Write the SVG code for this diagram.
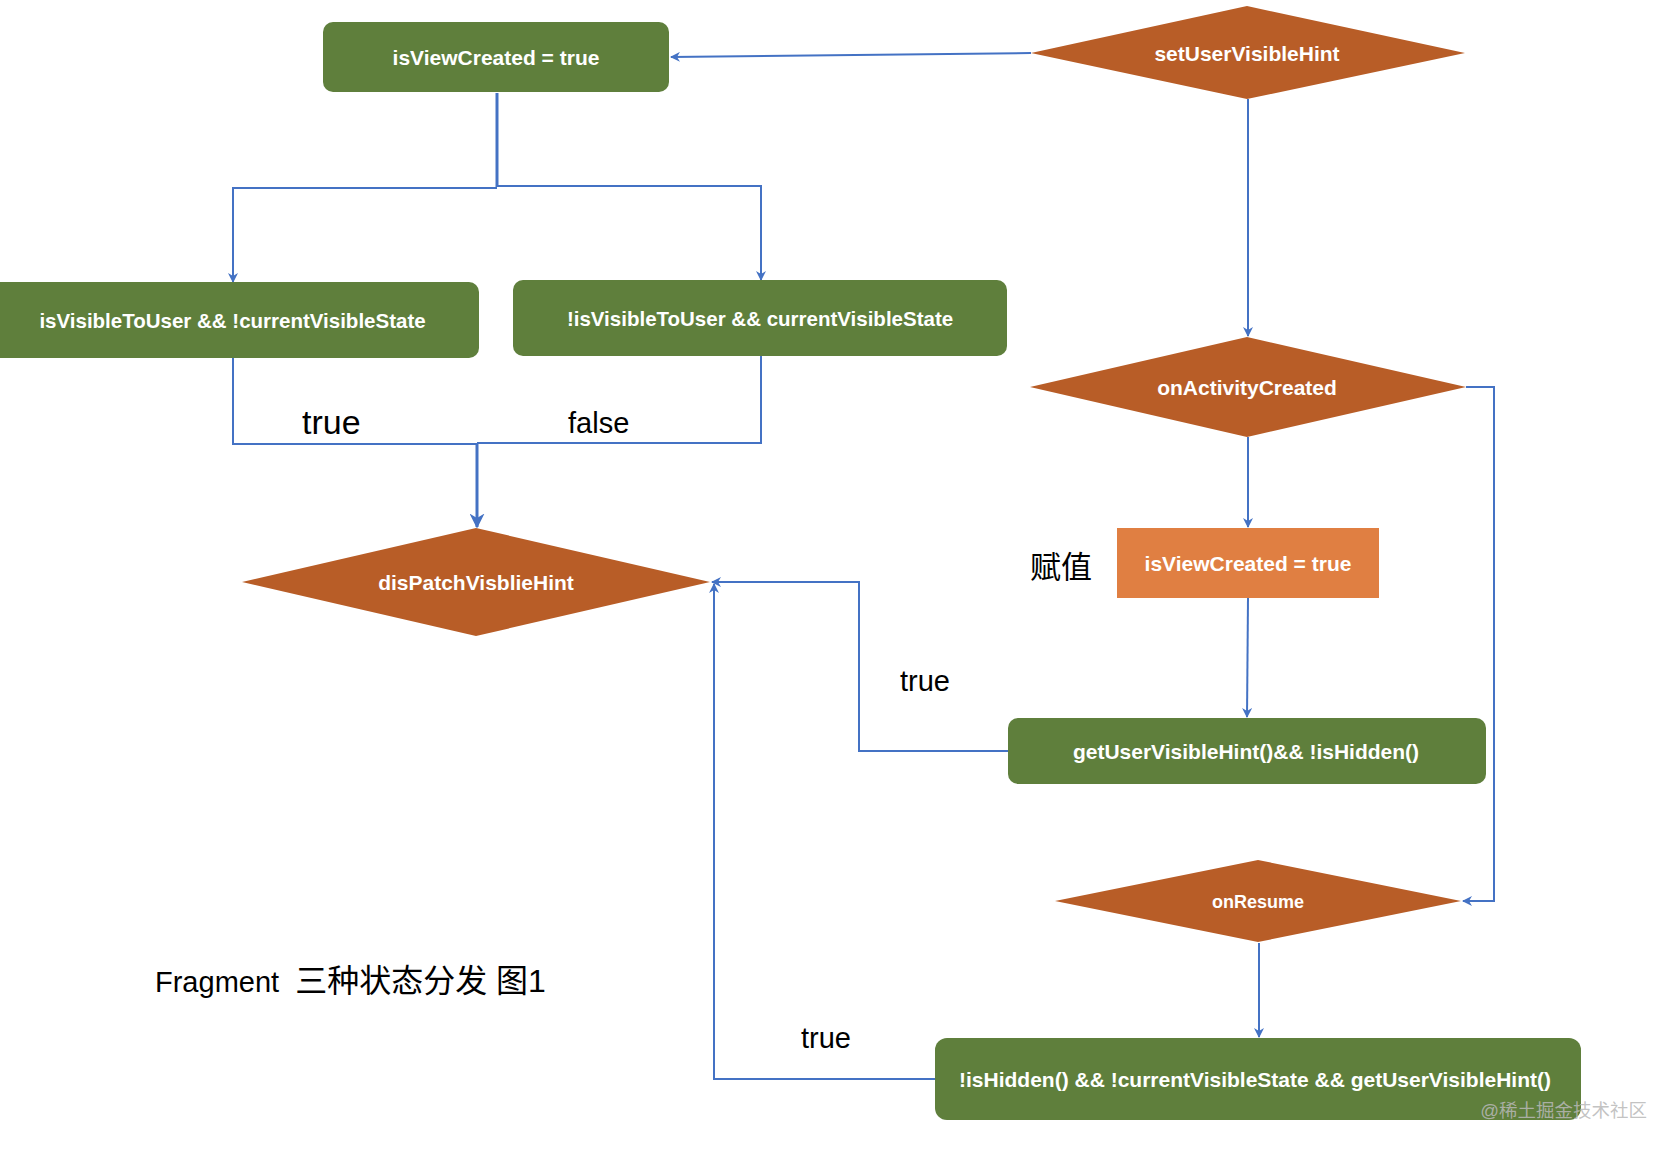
<svg xmlns="http://www.w3.org/2000/svg" width="1678" height="1150" viewBox="0 0 1678 1150">
<style>
.bg{fill:#ffffff}
.box{fill:#5F7F3C}
.dia{fill:#B85D27}
.obox{fill:#E07F42}
.nt{font-family:"Liberation Sans",Arial,sans-serif;font-weight:bold;font-size:21px;fill:#ffffff;text-anchor:middle}
.lbl{font-family:"Liberation Sans",Arial,"Noto Sans CJK SC",sans-serif;fill:#000000}
.cjk{font-family:"Liberation Sans","Noto Sans CJK SC",sans-serif;fill:#000000}
.wm{font-family:"Liberation Sans","Noto Sans CJK SC",sans-serif;font-size:18.5px;fill:#b8b8b8;fill-opacity:0.85}
.ln{fill:none;stroke:#4472C4;stroke-width:2}
.lnt{fill:none;stroke:#4472C4;stroke-width:3}
</style>
<defs>
<marker id="arr" viewBox="0 0 10 10" refX="9" refY="5" markerWidth="5" markerHeight="5" orient="auto" markerUnits="strokeWidth">
<path d="M0,0 L10,5 L0,10 L3,5 z" fill="#4472C4"/>
</marker>
</defs>
<rect class="bg" x="0" y="0" width="1678" height="1150"/>

<g id="connectors">
<polyline class="ln" points="1031,53 671,57" marker-end="url(#arr)"/>
<polyline class="lnt" points="497,93 497,187"/>
<polyline class="ln" points="497,188 233,188 233,282" marker-end="url(#arr)"/>
<polyline class="ln" points="497,186 761,186 761,280" marker-end="url(#arr)"/>
<polyline class="ln" points="233,358 233,444 477,444"/>
<polyline class="ln" points="761,356 761,443 477,443"/>
<polyline class="lnt" points="477,443 477,527" marker-end="url(#arr)"/>
<polyline class="ln" points="1248,99 1248,336" marker-end="url(#arr)"/>
<polyline class="ln" points="1248,437 1248,527" marker-end="url(#arr)"/>
<polyline class="ln" points="1248,598 1247,717" marker-end="url(#arr)"/>
<polyline class="ln" points="1466,387 1494,387 1494,901 1463,901" marker-end="url(#arr)"/>
<polyline class="ln" points="1259,943 1259,1037" marker-end="url(#arr)"/>
<polyline class="ln" points="1008,751 859,751 859,582 712,582" marker-end="url(#arr)"/>
<polyline class="ln" points="935,1079 714,1079 714,584" marker-end="url(#arr)"/>
</g>

<g id="n-isViewCreated-top">
<rect class="box" x="323" y="22" width="346" height="70" rx="10"/>
<text class="nt" x="496" y="64.5">isViewCreated = true</text>
</g>
<g id="n-setUserVisibleHint">
<polygon class="dia" points="1247,6 1465,53 1247,99 1031,53"/>
<text class="nt" x="1247" y="60.5">setUserVisibleHint</text>
</g>
<g id="n-visible">
<rect class="box" x="-12" y="282" width="491" height="76" rx="10"/>
<text class="nt" x="232.5" y="327.5" style="font-size:20.5px">isVisibleToUser &amp;&amp; !currentVisibleState</text>
</g>
<g id="n-invisible">
<rect class="box" x="513" y="280" width="494" height="76" rx="10"/>
<text class="nt" x="760" y="325.5" style="font-size:20.5px">!isVisibleToUser &amp;&amp; currentVisibleState</text>
</g>
<g id="n-dispatch">
<polygon class="dia" points="476,528 710,582 476,636 242,582"/>
<text class="nt" x="476" y="589.5">disPatchVisblieHint</text>
</g>
<g id="n-onActivityCreated">
<polygon class="dia" points="1247,337 1466,387 1247,437 1030,387"/>
<text class="nt" x="1247" y="394.5">onActivityCreated</text>
</g>
<g id="n-isViewCreated-assign">
<rect class="obox" x="1117" y="528" width="262" height="70"/>
<text class="nt" x="1248" y="570.5">isViewCreated = true</text>
</g>
<g id="n-getUserVisibleHint">
<rect class="box" x="1008" y="718" width="478" height="66" rx="10"/>
<text class="nt" x="1246" y="758.5">getUserVisibleHint()&amp;&amp; !isHidden()</text>
</g>
<g id="n-onResume">
<polygon class="dia" points="1258,860 1461,901 1258,942 1055,901"/>
<text class="nt" x="1258" y="907.5" style="font-size:18px">onResume</text>
</g>
<g id="n-bottom">
<rect class="box" x="935" y="1038" width="646" height="82" rx="12"/>
<text class="nt" x="1255" y="1086.5">!isHidden() &amp;&amp; !currentVisibleState &amp;&amp; getUserVisibleHint()</text>
</g>

<g id="labels">
<text class="lbl" x="302" y="434" style="font-size:34px">true</text>
<text class="lbl" x="568" y="433" style="font-size:29px">false</text>
<text class="lbl" x="900" y="691" style="font-size:29px">true</text>
<text class="lbl" x="801" y="1048" style="font-size:29px">true</text>
<text class="cjk" x="1061" y="578" style="font-size:31px;text-anchor:middle">赋值</text>
<text class="cjk" x="155" y="992" style="font-size:29px;white-space:pre">Fragment  <tspan style="font-size:32px">三种状态分发 图1</tspan></text>
<text class="wm" x="1647" y="1117" style="text-anchor:end">@稀土掘金技术社区</text>
</g>
</svg>
